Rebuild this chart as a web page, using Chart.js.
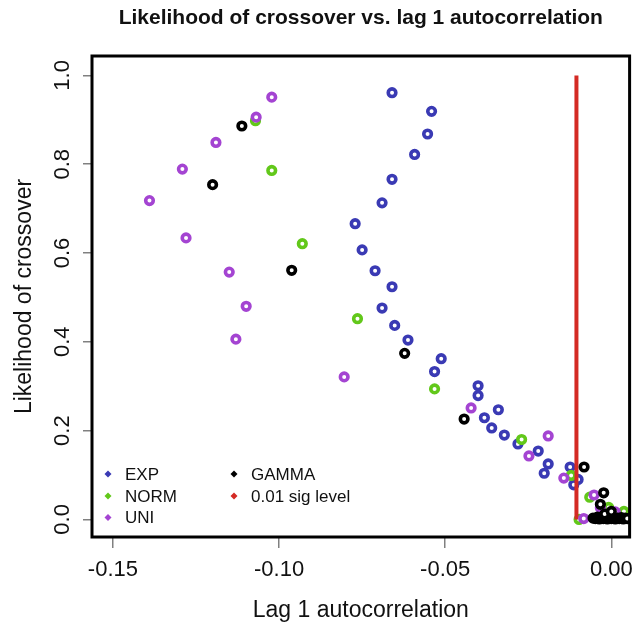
<!DOCTYPE html>
<html>
<head>
<meta charset="utf-8">
<script src="https://cdn.jsdelivr.net/npm/chart.js@4.4.0/dist/chart.umd.min.js"></script>
<style>
  html, body { margin: 0; padding: 0; background: #fff; }
</style>
</head>
<body>
<canvas id="crossover" width="637" height="626"></canvas>
<script>
// values
const expX = [-0.0660, -0.0541, -0.0553, -0.0592, -0.0660, -0.0690, -0.0771, -0.0750, -0.0711, -0.0660,
  -0.0690, -0.0652, -0.0612, -0.0512, -0.0532, -0.0401, -0.0401, -0.0340, -0.0382, -0.0360,
  -0.0322, -0.0281, -0.0220, -0.0190, -0.0202, -0.0124, -0.0100, -0.0113];
const expY = [0.961, 0.919, 0.868, 0.822, 0.766, 0.713, 0.666, 0.607, 0.560, 0.524,
  0.476, 0.437, 0.404, 0.362, 0.333, 0.301, 0.279, 0.247, 0.229, 0.206,
  0.190, 0.170, 0.154, 0.125, 0.104, 0.118, 0.090, 0.078];

const normX = [-0.1071, -0.1022, -0.0930, -0.0764, -0.0532, -0.0270, -0.0121, -0.0065, -0.0097, -0.0008, 0.0038];
const normY = [0.898, 0.786, 0.621, 0.452, 0.294, 0.180, 0.099, 0.050, 0.000, 0.027, 0.018];

const uniX = [-0.1022, -0.1069, -0.1190, -0.1291, -0.1390, -0.1280, -0.1150, -0.1099, -0.1130, -0.0804,
  -0.0422, -0.0190, -0.0248, -0.0143, -0.0052, -0.0033, 0.0012, -0.0083];
const uniY = [0.951, 0.906, 0.849, 0.789, 0.718, 0.634, 0.557, 0.480, 0.406, 0.321,
  0.251, 0.188, 0.143, 0.093, 0.055, 0.026, 0.017, 0.002];

const gammaX = [-0.1112, -0.1200, -0.0962, -0.0622, -0.0443, -0.0082, -0.0023, -0.0033,
  -0.0055, -0.0048, -0.0042, -0.0036, -0.0030, -0.0024, -0.0018, -0.0012, -0.0006, 0.0000,
  0.0006, 0.0012, 0.0018, 0.0024, 0.0030, 0.0036, 0.0042, 0.0048, -0.0020, 0.0000];
const gammaY = [0.886, 0.754, 0.561, 0.374, 0.226, 0.118, 0.060, 0.034,
  0.003, 0.002, 0.005, 0.001, 0.004, 0.002, 0.006, 0.001, 0.003, 0.002,
  0.005, 0.001, 0.003, 0.002, 0.004, 0.001, 0.003, 0.002, 0.012, 0.018];

const sigLevelX = [-0.0105, -0.0105];
const sigLevelY = [0.0, 1.0];

const seriesNames = ["EXP", "NORM", "UNI", "GAMMA", "0.01 sig level"];
const seriesColors = ["#3a3ab4", "#62c81a", "#a444d2", "#000000", "#d42a24"];

const xTicks = [-0.15, -0.10, -0.05, 0.00];
const yTicks = [0.0, 0.2, 0.4, 0.6, 0.8, 1.0];

const FONT = "'Liberation Sans', Arial, Helvetica, sans-serif";

function pts(xs, ys) {
  return xs.map((x, i) => ({ x: x, y: ys[i] }));
}

function ringSet(label, xs, ys, color, order) {
  return {
    label: label,
    data: pts(xs, ys),
    order: order,
    pointRadius: 3.8,
    pointHoverRadius: 3.8,
    pointBorderWidth: 3.6,
    pointBackgroundColor: "#fff",
    pointBorderColor: color,
    showLine: false
  };
}

// keep the plot region fixed: no extra room for overhanging tick labels
function noOverhang(s) {
  s.paddingLeft = 0;
  s.paddingRight = 0;
  s.paddingTop = 0;
  s.paddingBottom = 0;
}

// box round the plot, like R's box()
const framePlugin = {
  id: "frame",
  afterDatasetsDraw(chart) {
    const { ctx, chartArea: a } = chart;
    ctx.save();
    ctx.strokeStyle = "#000";
    ctx.lineWidth = 3;
    ctx.strokeRect(a.left, a.top, a.right - a.left, a.bottom - a.top);
    ctx.restore();
  }
};

// main title centred over the plot region
const titlePlugin = {
  id: "plotTitle",
  afterDraw(chart) {
    const { ctx, chartArea: a } = chart;
    ctx.save();
    ctx.font = "bold 21px " + FONT;
    ctx.fillStyle = "#111";
    ctx.textAlign = "center";
    ctx.textBaseline = "alphabetic";
    ctx.fillText("Likelihood of crossover vs. lag 1 autocorrelation", (a.left + a.right) / 2, 24);
    ctx.restore();
  }
};

// two column legend in the bottom left corner
const legendPlugin = {
  id: "cornerLegend",
  afterDraw(chart) {
    const { ctx, chartArea: a } = chart;
    const rows = [-63, -41, -19.5];
    ctx.save();
    ctx.font = "17px " + FONT;
    ctx.textBaseline = "middle";
    ctx.textAlign = "left";
    seriesNames.forEach((name, i) => {
      const col = i < 3 ? 0 : 1;
      const row = i < 3 ? i : i - 3;
      const mx = a.left + 16 + col * 126;
      const my = a.bottom + rows[row];
      ctx.fillStyle = seriesColors[i];
      ctx.beginPath();
      ctx.moveTo(mx, my - 3.5);
      ctx.lineTo(mx + 3.5, my);
      ctx.lineTo(mx, my + 3.5);
      ctx.lineTo(mx - 3.5, my);
      ctx.closePath();
      ctx.fill();
      ctx.fillStyle = "#111";
      ctx.fillText(name, mx + 17, my + 1);
    });
    ctx.restore();
  }
};

new Chart(document.getElementById("crossover"), {
  type: "scatter",
  data: {
    datasets: [
      ringSet(seriesNames[0], expX, expY, seriesColors[0], 5),
      ringSet(seriesNames[1], normX, normY, seriesColors[1], 4),
      ringSet(seriesNames[2], uniX, uniY, seriesColors[2], 2),
      ringSet(seriesNames[3], gammaX, gammaY, seriesColors[3], 1),
      {
        label: seriesNames[4],
        data: pts(sigLevelX, sigLevelY),
        order: 3,
        showLine: true,
        borderColor: seriesColors[4],
        borderWidth: 4,
        pointRadius: 0,
        pointHoverRadius: 0
      }
    ]
  },
  options: {
    responsive: false,
    animation: false,
    devicePixelRatio: 1,
    layout: { padding: { top: 56, right: 3, left: 0, bottom: 0 } },
    plugins: {
      legend: { display: false },
      tooltip: { enabled: false },
      title: { display: false }
    },
    scales: {
      x: {
        type: "linear",
        min: -0.1563,
        max: 0.0055,
        afterBuildTicks: (s) => { s.ticks = xTicks.map(v => ({ value: v })); },
        afterFit: (s) => { s.height = 89; noOverhang(s); },
        border: { display: false },
        grid: { drawOnChartArea: false, tickLength: 11, color: "#808080", lineWidth: 1.5 },
        ticks: {
          autoSkip: false,
          maxRotation: 0,
          padding: 9,
          color: "#111",
          font: { family: FONT, size: 22 },
          callback: (v) => Number(v).toFixed(2)
        },
        title: {
          display: true,
          text: "Lag 1 autocorrelation",
          color: "#111",
          font: { family: FONT, size: 23 },
          padding: { top: 0, bottom: 2 }
        }
      },
      y: {
        type: "linear",
        min: -0.0396,
        max: 1.0437,
        afterBuildTicks: (s) => { s.ticks = yTicks.map(v => ({ value: v })); },
        afterFit: (s) => { s.width = 92; noOverhang(s); },
        border: { display: false },
        grid: { drawOnChartArea: false, tickLength: 9, color: "#808080", lineWidth: 1.5 },
        ticks: {
          autoSkip: false,
          minRotation: 90,
          maxRotation: 90,
          crossAlign: "center",
          padding: 5,
          color: "#111",
          font: { family: FONT, size: 22 },
          callback: (v) => Number(v).toFixed(1)
        },
        title: {
          display: true,
          text: "Likelihood of crossover",
          color: "#111",
          font: { family: FONT, size: 23 },
          padding: { top: 11, bottom: 0 }
        }
      }
    }
  },
  plugins: [framePlugin, titlePlugin, legendPlugin]
});
</script>
</body>
</html>
